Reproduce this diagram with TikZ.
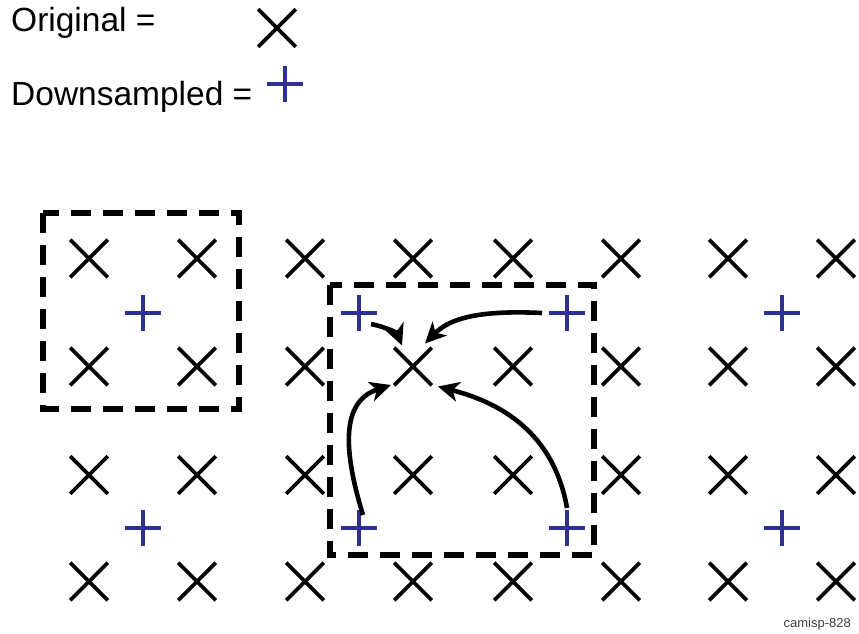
\documentclass[tikz,border=0pt]{standalone}
\usepackage{fontspec}
\setmainfont{Liberation Sans}
\usetikzlibrary{shapes.misc,arrows.meta,positioning}
\definecolor{markblue}{HTML}{2E3192}
\definecolor{taggray}{HTML}{404040}
\begin{document}
\begin{tikzpicture}[x=1pt,y=-1pt,
    origmark/.style={cross out,draw=black,line width=3.6pt,minimum size=34pt,inner sep=0pt},
    downmark/.style={minimum size=36pt,inner sep=0pt,
      path picture={\draw[markblue,line width=3.6pt]
        (path picture bounding box.north) -- (path picture bounding box.south)
        (path picture bounding box.west) -- (path picture bounding box.east);}},
    window/.style={line width=6pt,dash pattern=on 20pt off 12pt},
    flow/.style={line width=4.6pt,-{Stealth[length=21pt,width=20pt,inset=6pt]}}]
      \useasboundingbox (0,0) rectangle (859,633);
      % Legend
      \node[anchor=base west,inner sep=0pt,font=\fontsize{33.5}{40}\selectfont] (origlabel) at (11,31) {Original =};
      \node[origmark] (origkey) at (277,28) {};
      \node[anchor=base west,inner sep=0pt,font=\fontsize{33.5}{40}\selectfont] (downlabel) at (11,105) {Downsampled =};
      \node[downmark] (downkey) at (285,84) {};
      % Original samples
      \foreach \i/\x in {1/89,2/197,3/305,4/413,5/513,6/621,7/728,8/836}
        \foreach \j/\y in {1/258.5,2/366.5,3/475,4/581.5}
          \node[origmark] (o\i\j) at (\x,\y) {};
      % Downsampled samples
      \foreach \i/\x in {1/143,2/359,3/567,4/782}
        \foreach \j/\y in {1/313,2/528}
          \node[downmark] (d\i\j) at (\x,\y) {};
      % Windows
      \draw[window] (43,213) rectangle (239,409);
      \draw[window] (330,285) rectangle (594,555);
      % Interpolation
      \draw[flow] ([shift={(12,11)}]d21.center) .. controls (386,327) and (397,333) .. ([shift={(-11,-21)}]o42.center);
      \draw[flow] ([shift={(-25,0)}]d31.center) .. controls (480,310) and (450,318) .. ([shift={(12,-23)}]o42.center);
      \draw[flow] ([shift={(4,-13)}]d22.center) .. controls (340,440) and (345,400) .. ([shift={(-22,18.5)}]o42.center);
      \draw[flow] ([shift={(0,-20)}]d32.center) .. controls (555,440) and (510,405) .. ([shift={(25,20)}]o42.center);
      \node[anchor=base east,inner sep=0pt,font=\fontsize{13}{15}\selectfont,text=taggray] (tag) at (851,627) {camisp-828};
\end{tikzpicture}
\end{document}
